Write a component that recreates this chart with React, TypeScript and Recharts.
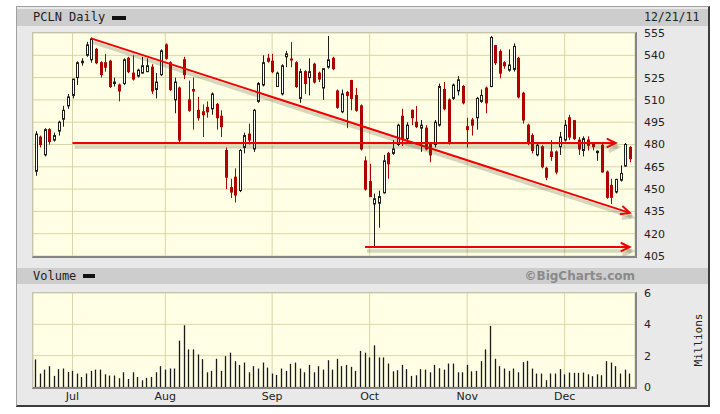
import React from 'react';
import { ComposedChart, Bar, XAxis, YAxis, CartesianGrid, ReferenceLine } from 'recharts';

const openP = [462,485,473,490,483,489,497,506,513,525,
535,540,537,544,535,535,536,521,520,521,
538,528,526,528,529,532,517,527,547,535,
510,518,537,510,517,503,502,505,504,507,
499,476,451,458,449,478,487,477,509,520,
538,536,519,514,539,537.5,535,511,529,525,
534,528,518,532,538,516,502,515,523,513,
506,469,455,440,440.5,447.5,474,474,480,499,
484,503,495,491,491,480,480,493,517,510,
511,516,519,492,496.5,498,509,518,519,546.5,
542.5,535,530,530.5,538,514.5,493,486,473,478.5,
464,475,475,478.5,483,498,496,483,476,483,
481,474.5,479.5,461.5,452.5,448,456,465.5,478];

const highP = [489,486,491,491,488,496,506,514,524,536,
538,549,552,545,536,541,537,525,521,538,
539,540,531,539,538,534,528,544,548,536,
525,519,539,523,525,512,507,509,515,508,
503,478,457,464,477,488,494,504,522,540,
541,541,529,534,543,549,536,531,530,538,
535,529,531,553,539,517,517,516,523.5,518,
507,472,467,447,449,473,475,483,494,504,
495,503.5,506,496.5,493,481,496.5,521,522,511,
521,526,520,498,498,512,517,519,553,547,
544,536,544,548,539,515.5,494,487.5,481,479.5,
465,483,476,488.5,496.5,500,496.5,485,485.5,485.5,
481.5,476,481,462.5,457,457,466,481,479];

const lowP = [459,478,472,480,482,486,492,504,511,520,
533,539,535,534,525,529,518,519,509,520,
528,523,525,528,529,514,511,526,537,516,
501,481,524,502,490,496,485,498,500,490,
485,450,444,441,448,474,480,475,508,519,
535,528,519,513,532,532,518,508,514,513,
521,522,510,531,530,504,501,491,503,502,
476,449,445,411,424,447,457,473,479,479,
483,493,491,475,476,468,478,492,503,480,
510,513,507,478,486,490,508,501,518.5,533.5,
524.5,531,529,529,511,494,479.5,474,472,464,
456,469,460,473,482,483,483,473,472,476,
476,469,461,443.5,440,447,455,465,468];

const closeP = [487,480,490,482,486,495,503,512,524,535,
536,547,551,535,527,532,519,522,516,537,
529,524,530,533,533,516,522,543,538,517,
522,483,527,503,516,498,500,502,514,498,
492,458,448,446,476,486,483,503,521,535,
536,529,528,533,541,537,519,529,521,529,
522,524,531,537,531,505,514,513,511,503,
477,450,445,443.5,445,469,467,477,493,484,
493,498,492,493,477,473,495,519,504,481,
520,523.5,508,490,493,511,513,508,552,535,
528,533,533.5,546,512,496.5,481,476,479.5,465,
458,472,461.5,485,493,485,484,477,484,479.5,
478.5,475.5,461.5,444.5,444.5,456.5,460.5,480,470.5];

const volumeM = [1.76,0.86,1.11,1.33,0.71,1.14,1.18,0.96,1.03,0.86,
0.64,0.86,1.03,1.11,1.11,0.81,0.73,0.73,0.56,0.94,
0.51,0.94,0.64,0.43,0.58,0.64,0.94,1.33,1.11,1.18,
1.18,2.96,3.94,2.4,2.4,2.08,1.78,0.94,1.03,1.8,
1.03,1.97,2.19,1.65,1.41,1.56,0.94,1.33,1.18,1.56,
1.24,0.86,0.77,1.18,1.03,1.48,1.56,1.18,0.94,1.41,
0.94,1.33,1.11,1.71,1.11,1.8,1.33,1.41,1.29,1.03,
2.3,2.19,1.89,2.66,1.89,1.89,1.5,1.0,1.07,1.41,
1.14,0.71,0.75,1.14,1.11,0.94,1.41,1.2,1.11,1.5,
1.5,0.94,0.94,1.41,1.0,1.03,1.65,2.4,3.9,1.8,
1.33,1.18,1.03,1.18,0.94,1.59,1.67,1.18,0.86,0.86,
0.43,0.86,0.86,1.14,0.81,0.92,0.9,0.9,0.92,0.81,
0.69,0.81,0.75,1.65,1.56,1.33,0.86,1.11,0.86];

const monthTicks = [8, 28, 51, 72, 93, 114];
const monthLabels = ['Jul', 'Aug', 'Sep', 'Oct', 'Nov', 'Dec'];
const priceTicks = [405, 420, 435, 450, 465, 480, 495, 510, 525, 540, 555];
const volTicks = [0, 2, 4, 6];

// trend lines: [startIndex, startPrice, endIndex, endPrice, arrow]
const trendLines: [number, number, number, number, boolean][] = [
  [12, 551.4, 128, 434, true],
  [8, 481, 125, 481, true],
  [71, 411, 128, 411, true],
];

const data = openP.map((o, i) => ({
  i,
  o,
  h: highP[i],
  l: lowP[i],
  c: closeP[i],
  v: volumeM[i],
}));

const GRID = '#d6d6a4';
const PLOT_BG = '#ffffe6';
const RED = '#b00000';

const Candle = (props: any) => {
  const { x, y, width, height, payload } = props;
  if (!payload) return null;
  const { o, h, l, c } = payload;
  const top0 = Math.min(y, y + height);
  const total = Math.abs(height);
  const cx = Math.round(x + width / 2) + 0.5;
  const ppu = total / (h - l);
  const bTop = top0 + (h - Math.max(o, c)) * ppu;
  const bBot = top0 + (h - Math.min(o, c)) * ppu;
  const up = c >= o;
  const col = up ? '#1e1e1e' : RED;
  return (
    <g>
      <line x1={cx} x2={cx} y1={top0} y2={top0 + total} stroke={col} strokeWidth={1} />
      <rect
        x={cx - 1}
        y={bTop}
        width={2}
        height={Math.max(bBot - bTop, 1)}
        fill={up ? '#ffffff' : RED}
        stroke={col}
        strokeWidth={1}
      />
    </g>
  );
};

const VolBar = (props: any) => {
  const { x, y, width, height } = props;
  const top0 = Math.min(y, y + height);
  const total = Math.abs(height);
  const cx = Math.round(x + width / 2) + 0.5;
  return <line x1={cx} x2={cx} y1={top0} y2={top0 + total} stroke="#1a1a1a" strokeWidth={1.3} />;
};

const makeTrend = (arrow: boolean) => (p: any) => {
  const x1 = Number(p.x1), y1 = Number(p.y1), x2 = Number(p.x2), y2 = Number(p.y2);
  const ang = Math.atan2(y2 - y1, x2 - x1);
  const len = 10;
  const spread = 0.45;
  const a1x = x2 - len * Math.cos(ang - spread);
  const a1y = y2 - len * Math.sin(ang - spread);
  const a2x = x2 - len * Math.cos(ang + spread);
  const a2y = y2 - len * Math.sin(ang + spread);
  const pts = `${a1x},${a1y} ${x2},${y2} ${a2x},${a2y}`;
  const sdx = 2, sdy = 4;
  const spts = `${a1x + sdx},${a1y + sdy} ${x2 + sdx},${y2 + sdy} ${a2x + sdx},${a2y + sdy}`;
  return (
    <g>
      <line x1={x1 + sdx} y1={y1 + sdy} x2={x2 + sdx} y2={y2 + sdy} stroke="rgba(70,70,40,0.22)" strokeWidth={3.5} />
      {arrow && <polyline points={spts} fill="none" stroke="rgba(70,70,40,0.22)" strokeWidth={3.5} />}
      <line x1={x1} y1={y1} x2={x2} y2={y2} stroke="#f00000" strokeWidth={2} />
      {arrow && <polyline points={pts} fill="none" stroke="#f00000" strokeWidth={2} />}
    </g>
  );
};

const tickStyle = { fontSize: 11, fill: '#222', fontFamily: '"DejaVu Sans", Verdana, sans-serif' };
const mono = '"DejaVu Sans Mono", monospace';

const abs = (s: React.CSSProperties): React.CSSProperties => ({ position: 'absolute', ...s });

export default function App() {
  return (
    <div style={abs({ left: 0, top: 0, width: 720, height: 414, background: '#ffffff', overflow: 'hidden', fontFamily: '"DejaVu Sans", sans-serif' })}>
      {/* outer frame */}
      <div style={abs({ left: 16, top: 6, width: 691, height: 398, background: '#e9e9e9', borderLeft: '1px solid #a0a0a0', borderTop: '1px solid #a0a0a0', borderRight: '2px solid #3c3c3c', borderBottom: '2px solid #3c3c3c' })} />
      {/* price header */}
      <div style={abs({ left: 17, top: 9, width: 691, height: 17, background: '#cdcdcd' })} />
      <div style={abs({ left: 33, top: 9, height: 17, lineHeight: '17px', fontFamily: mono, fontSize: 12, color: '#222', whiteSpace: 'nowrap' })}>PCLN Daily</div>
      <div style={abs({ left: 112, top: 16, width: 14, height: 4, background: '#111' })} />
      <div style={abs({ left: 644, top: 9, height: 17, lineHeight: '17px', fontFamily: mono, fontSize: 11.5, color: '#222', whiteSpace: 'nowrap' })}>12/21/11</div>

      {/* price plot background */}
      <div style={abs({ left: 33, top: 33, width: 602, height: 223, background: PLOT_BG })} />

      {/* volume header */}
      <div style={abs({ left: 17, top: 268, width: 691, height: 16, background: '#cdcdcd' })} />
      <div style={abs({ left: 33, top: 268, height: 16, lineHeight: '16px', fontFamily: mono, fontSize: 12, color: '#222', whiteSpace: 'nowrap' })}>Volume</div>
      <div style={abs({ left: 83, top: 274, width: 12, height: 4, background: '#111' })} />
      <div style={abs({ right: 85, top: 268, height: 16, lineHeight: '16px', fontSize: 12, fontWeight: 'bold', color: '#8a8a8a', whiteSpace: 'nowrap' })}>©BigCharts.com</div>

      {/* volume plot background */}
      <div style={abs({ left: 33, top: 293, width: 602, height: 94, background: PLOT_BG })} />

      {/* price chart */}
      <div style={abs({ left: 33, top: 25 })}>
        <ComposedChart width={662} height={239} data={data} margin={{ top: 8, right: 0, bottom: 8, left: 0 }} barCategoryGap={0}>
          <CartesianGrid stroke={GRID} strokeWidth={1} />
          <XAxis dataKey="i" type="category" hide ticks={monthTicks} interval={0} padding={{ left: 0, right: 3 }} />
          <YAxis
            orientation="right"
            width={60}
            domain={[405, 555]}
            ticks={priceTicks}
            interval={0}
            allowDataOverflow
            tickLine={false}
            axisLine={false}
            tickSize={0}
            tickMargin={9}
            tick={tickStyle}
          />
          <Bar dataKey={(d: any) => [d.l, d.h]} barSize={3} shape={Candle} isAnimationActive={false} />
          {trendLines.map((t, k) => (
            <ReferenceLine
              key={k}
              segment={[{ x: t[0], y: t[1] }, { x: t[2], y: t[3] }]}
              ifOverflow="visible"
              shape={makeTrend(t[4])}
            />
          ))}
        </ComposedChart>
      </div>

      {/* volume chart */}
      <div style={abs({ left: 33, top: 285 })}>
        <ComposedChart width={662} height={124} data={data} margin={{ top: 8, right: 0, bottom: 0, left: 0 }} barCategoryGap={0}>
          <CartesianGrid stroke={GRID} strokeWidth={1} />
          <XAxis
            dataKey="i"
            type="category"
            ticks={monthTicks}
            interval={0}
            padding={{ left: 0, right: 3 }}
            height={22}
            tickLine={false}
            axisLine={false}
            tickSize={0}
            tickMargin={5}
            tick={tickStyle}
            tickFormatter={(v: any) => monthLabels[monthTicks.indexOf(Number(v))] ?? ''}
          />
          <YAxis
            orientation="right"
            width={60}
            domain={[0, 6]}
            ticks={volTicks}
            interval={0}
            allowDataOverflow
            tickLine={false}
            axisLine={false}
            tickSize={0}
            tickMargin={9}
            tick={tickStyle}
          />
          <Bar dataKey="v" barSize={2} shape={VolBar} isAnimationActive={false} />
        </ComposedChart>
      </div>

      {/* plot borders */}
      <div style={abs({ left: 32, top: 32, width: 605, height: 226, boxSizing: 'border-box', borderLeft: '1px solid #c4c4b4', borderTop: '1px solid #c4c4b4', borderRight: '2px solid #858585', borderBottom: '2px solid #858585', pointerEvents: 'none' })} />
      <div style={abs({ left: 32, top: 292, width: 605, height: 97, boxSizing: 'border-box', borderLeft: '1px solid #c4c4b4', borderTop: '1px solid #c4c4b4', borderRight: '2px solid #858585', borderBottom: '2px solid #858585', pointerEvents: 'none' })} />

      {/* Millions label */}
      <div style={abs({ left: 698, top: 340, transform: 'translate(-50%, -50%) rotate(-90deg)', fontFamily: mono, fontSize: 11, color: '#222', whiteSpace: 'nowrap' })}>Millions</div>
    </div>
  );
}
